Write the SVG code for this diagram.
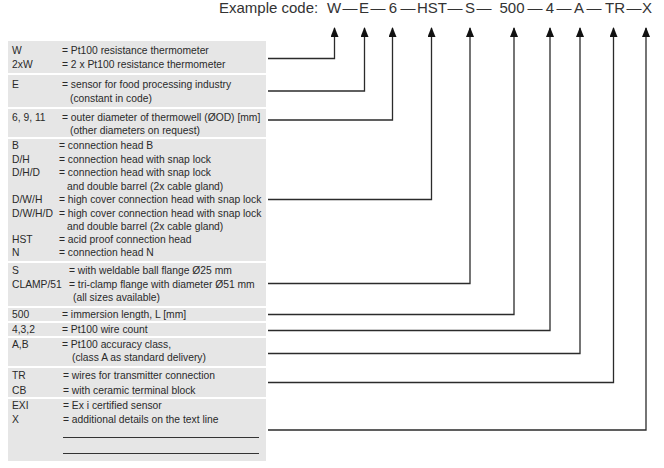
<svg xmlns="http://www.w3.org/2000/svg" width="664" height="468" viewBox="0 0 664 468">
<defs>
<style>
.hd{font-family:"Liberation Sans",Arial,sans-serif;font-size:15px;fill:#333}
.c{text-anchor:middle}
.t{font-family:"Liberation Sans",Arial,sans-serif;font-size:10.3px;fill:#2a2a2a}
.bg{fill:#e6e6e6}
.cn{fill:none;stroke:#2b2b2b;stroke-width:1.3}
.ul{stroke:#333;stroke-width:1}
</style>
<marker id="ah" viewBox="0 0 10 8" refX="9" refY="4" markerWidth="10" markerHeight="8" markerUnits="userSpaceOnUse" orient="auto">
<path d="M0,0 L10,4 L0,8 Z" fill="#111"/>
</marker>
</defs>
<rect width="664" height="468" fill="#fff"/>
<g id="header">
<text class="hd" x="219" y="13">Example code:</text>
<text class="hd c" x="334" y="13">W</text>
<text class="hd c" x="350" y="13">—</text>
<text class="hd c" x="364" y="13">E</text>
<text class="hd c" x="378" y="13">—</text>
<text class="hd c" x="393" y="13">6</text>
<text class="hd c" x="408" y="13">—</text>
<text class="hd c" x="432" y="13">HST</text>
<text class="hd c" x="455" y="13">—</text>
<text class="hd c" x="470" y="13">S</text>
<text class="hd c" x="484" y="13">—</text>
<text class="hd c" x="512" y="13">500</text>
<text class="hd c" x="535" y="13">—</text>
<text class="hd c" x="550" y="13">4</text>
<text class="hd c" x="564" y="13">—</text>
<text class="hd c" x="579" y="13">A</text>
<text class="hd c" x="594" y="13">—</text>
<text class="hd c" x="615" y="13">TR</text>
<text class="hd c" x="634" y="13">—</text>
<text class="hd c" x="647" y="13">X</text>
</g>
<g id="sec-w">
<rect class="bg" x="8" y="41" width="258" height="32"/>
<text class="t" x="12" y="54">W</text><text class="t" x="62" y="54">= Pt100 resistance thermometer</text>
<text class="t" x="12" y="68">2xW</text><text class="t" x="62" y="68">= 2 x Pt100 resistance thermometer</text>
</g>
<g id="sec-e">
<rect class="bg" x="8" y="75" width="258" height="32"/>
<text class="t" x="12" y="88">E</text><text class="t" x="62" y="88">= sensor for food processing industry</text>
<text class="t" x="70" y="102">(constant in code)</text>
</g>
<g id="sec-od">
<rect class="bg" x="8" y="109" width="258" height="28"/>
<text class="t" x="12" y="121">6, 9, 11</text><text class="t" x="62" y="121">= outer diameter of thermowell (ØOD) [mm]</text>
<text class="t" x="70" y="134">(other diameters on request)</text>
</g>
<g id="sec-head">
<rect class="bg" x="8" y="139" width="258" height="122"/>
<text class="t" x="12" y="149">B</text><text class="t" x="59" y="149">= connection head B</text>
<text class="t" x="12" y="162.5">D/H</text><text class="t" x="59" y="162.5">= connection head with snap lock</text>
<text class="t" x="12" y="176">D/H/D</text><text class="t" x="59" y="176">= connection head with snap lock</text>
<text class="t" x="67" y="189.5">and double barrel (2x cable gland)</text>
<text class="t" x="12" y="203">D/W/H</text><text class="t" x="59" y="203">= high cover connection head with snap lock</text>
<text class="t" x="12" y="216.5" textLength="41" lengthAdjust="spacingAndGlyphs">D/W/H/D</text><text class="t" x="59" y="216.5">= high cover connection head with snap lock</text>
<text class="t" x="67" y="230">and double barrel (2x cable gland)</text>
<text class="t" x="12" y="243">HST</text><text class="t" x="59" y="243">= acid proof connection head</text>
<text class="t" x="12" y="256">N</text><text class="t" x="59" y="256">= connection head N</text>
</g>
<g id="sec-flange">
<rect class="bg" x="8" y="263" width="258" height="43"/>
<text class="t" x="12" y="274">S</text><text class="t" x="69" y="274">= with weldable ball flange Ø25 mm</text>
<text class="t" x="12" y="288">CLAMP/51</text><text class="t" x="69" y="288">= tri-clamp flange with diameter Ø51 mm</text>
<text class="t" x="73" y="301">(all sizes available)</text>
</g>
<g id="sec-len">
<rect class="bg" x="8" y="308" width="258" height="13"/>
<text class="t" x="12" y="317.5">500</text><text class="t" x="62" y="317.5">= immersion length, L [mm]</text>
</g>
<g id="sec-wire">
<rect class="bg" x="8" y="323" width="258" height="13"/>
<text class="t" x="12" y="332.5">4,3,2</text><text class="t" x="62" y="332.5">= Pt100 wire count</text>
</g>
<g id="sec-class">
<rect class="bg" x="8" y="338" width="258" height="28"/>
<text class="t" x="12" y="347.5">A,B</text><text class="t" x="62" y="347.5">= Pt100 accuracy class,</text>
<text class="t" x="72" y="360.5">(class A as standard delivery)</text>
</g>
<g id="sec-tr">
<rect class="bg" x="8" y="368" width="258" height="29"/>
<text class="t" x="12" y="378.5">TR</text><text class="t" x="63" y="378.5">= wires for transmitter connection</text>
<text class="t" x="12" y="394">CB</text><text class="t" x="63" y="394">= with ceramic terminal block</text>
</g>
<g id="sec-x">
<rect class="bg" x="8" y="399" width="258" height="62"/>
<text class="t" x="12" y="409">EXI</text><text class="t" x="63" y="409">= Ex i certified sensor</text>
<text class="t" x="12" y="423">X</text><text class="t" x="63" y="423">= additional details on the text line</text>
<line class="ul" x1="63" y1="437.5" x2="259" y2="437.5"/>
<line class="ul" x1="63" y1="453.5" x2="259" y2="453.5"/>
</g>
<g id="connectors">
<path class="cn" d="M268,58.5 H334.5 V28" marker-end="url(#ah)"/>
<path class="cn" d="M268,91 H364.5 V28" marker-end="url(#ah)"/>
<path class="cn" d="M268,120 H392.5 V28" marker-end="url(#ah)"/>
<path class="cn" d="M268,199.5 H431.5 V28" marker-end="url(#ah)"/>
<path class="cn" d="M268,283.5 H470 V28" marker-end="url(#ah)"/>
<path class="cn" d="M268,314.5 H514 V28" marker-end="url(#ah)"/>
<path class="cn" d="M268,330.5 H550 V28" marker-end="url(#ah)"/>
<path class="cn" d="M268,353.5 H580 V28" marker-end="url(#ah)"/>
<path class="cn" d="M268,382.5 H613.5 V28" marker-end="url(#ah)"/>
<path class="cn" d="M268,430 H646 V28" marker-end="url(#ah)"/>
</g>
</svg>
